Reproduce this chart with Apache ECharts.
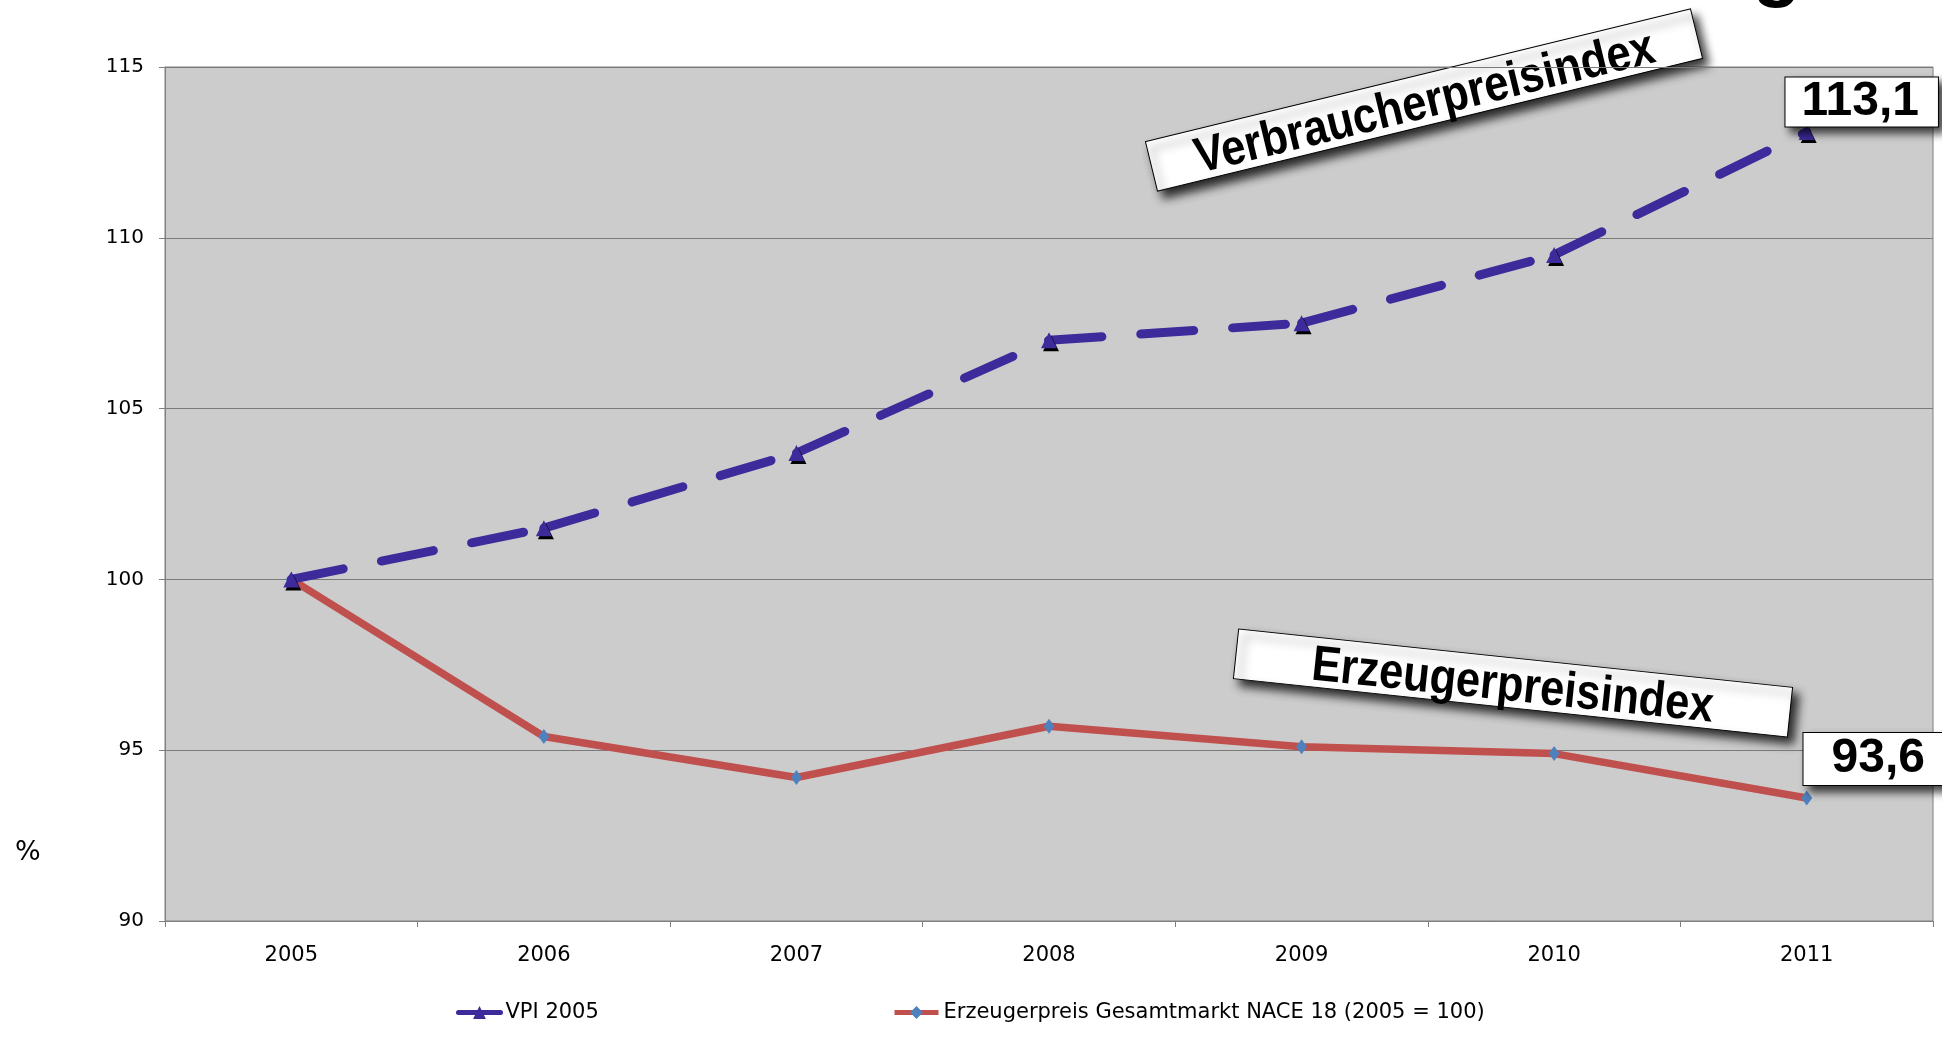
<!DOCTYPE html>
<html>
<head>
<meta charset="UTF-8">
<script src="https://cdn.jsdelivr.net/npm/echarts@6/dist/echarts.min.js"></script>
<style>
  html, body { margin: 0; padding: 0; background: #fff; }
  #main { width: 1942px; height: 1037px; }
</style>
</head>
<body>
<div id="main"></div>
<script>
  // Jahre und Indexwerte (2005 = 100)
  var years = ['2005', '2006', '2007', '2008', '2009', '2010', '2011'];
  var vpi = [100, 101.5, 103.7, 107.0, 107.5, 109.5, 113.1];
  var erzeuger = [100, 95.4, 94.2, 95.7, 95.1, 94.9, 93.6];
  var seriesNames = ['VPI 2005', 'Erzeugerpreis Gesamtmarkt NACE 18 (2005 = 100)'];
  var yTicks = { min: 90, max: 115, step: 5 };

  var boxFont = "'Liberation Sans', Arial, sans-serif";
  var axisFont = "'DejaVu Sans', Verdana, sans-serif";
  var lila = '#3d2b9b';

  function komma(v) { return String(v).replace('.', ','); }

  // letzter Punkt bekommt die weisse Wertbox
  function withEndBox(values, offset, padding) {
    return values.map(function (v, i) {
      if (i !== values.length - 1) return v;
      return {
        value: v,
        label: {
          show: true,
          position: 'inside',
          offset: offset,
          formatter: function (p) { return komma(p.value); },
          fontFamily: boxFont,
          fontWeight: 'bold',
          fontSize: 48,
          lineHeight: 46,
          color: '#000',
          backgroundColor: '#fff',
          borderColor: '#000',
          borderWidth: 1,
          padding: padding,
          shadowColor: 'rgba(0,0,0,0.75)',
          shadowBlur: 8,
          shadowOffsetX: 6,
          shadowOffsetY: 6
        }
      };
    });
  }

  // gestrichelte Linie: Strichmuster beginnt an jedem Punkt neu
  var vpiSegments = [];
  for (var s = 0; s < vpi.length - 1; s++) {
    vpiSegments.push({
      name: seriesNames[0],
      type: 'line',
      data: vpi.map(function (v, j) { return (j === s || j === s + 1) ? v : '-'; }),
      showSymbol: false,
      symbol: 'triangle',
      symbolSize: 16,
      silent: true,
      lineStyle: { color: lila, width: 9, type: [53, 39], cap: 'round' },
      itemStyle: { color: lila },
      z: 3
    });
  }

  function tafel(text, x, y, w, h, rot) {
    return {
      type: 'group',
      x: x, y: y,
      rotation: rot,
      children: [
        {
          type: 'rect',
          shape: { x: -w / 2, y: -h / 2, width: w, height: h },
          style: {
            fill: '#fff', stroke: '#000', lineWidth: 1,
            shadowColor: 'rgba(0,0,0,0.8)', shadowBlur: 10,
            shadowOffsetX: 6, shadowOffsetY: 7
          }
        },
        {
          type: 'text',
          x: 0, y: 4,
          scaleX: 0.87,
          style: {
            text: text,
            fontFamily: boxFont, fontWeight: 'bold', fontSize: 50,
            fill: '#000',
            textAlign: 'center', textVerticalAlign: 'middle',
            align: 'center', verticalAlign: 'middle'
          }
        }
      ]
    };
  }

  var chart = echarts.init(document.getElementById('main'));

  chart.setOption({
    animation: false,
    grid: {
      left: 165, right: 9, top: 67, bottom: 116,
      show: true,
      backgroundColor: '#cccccc',
      borderColor: '#808080',
      borderWidth: 1
    },
    legend: [
      {
        data: [seriesNames[0]],
        left: 456, top: 1002, padding: 0,
        itemWidth: 42, itemHeight: 16,
        lineStyle: { type: 'solid', width: 5 },
        textStyle: { fontFamily: axisFont, fontSize: 21, color: '#000' }
      },
      {
        data: [seriesNames[1]],
        left: 892, top: 1002, padding: 0,
        itemWidth: 44, itemHeight: 16,
        lineStyle: { width: 5 },
        textStyle: { fontFamily: axisFont, fontSize: 21, color: '#000' }
      }
    ],
    xAxis: {
      type: 'category',
      data: years,
      boundaryGap: true,
      axisLine: { lineStyle: { color: '#808080', width: 1 } },
      axisTick: { show: true, length: 6, lineStyle: { color: '#808080' } },
      axisLabel: { margin: 24, fontFamily: axisFont, fontSize: 21, color: '#000' },
      splitLine: { show: false }
    },
    yAxis: {
      type: 'value',
      min: yTicks.min, max: yTicks.max, interval: yTicks.step,
      axisLine: { show: true, lineStyle: { color: '#808080', width: 1 } },
      axisTick: { show: true, length: 6, lineStyle: { color: '#808080' } },
      axisLabel: { margin: 21, fontFamily: axisFont, fontSize: 20, color: '#000' },
      splitLine: { show: true, lineStyle: { color: '#7a7a7a', width: 1 } }
    },
    series: vpiSegments.concat([
      {
        name: seriesNames[0],
        type: 'line',
        data: withEndBox(vpi, [55, -30], [3, 19, 0, 16]),
        symbol: 'triangle',
        symbolSize: 16,
        lineStyle: { color: lila, width: 9, opacity: 0 },
        itemStyle: {
          color: lila,
          shadowColor: '#000', shadowBlur: 0, shadowOffsetX: 2, shadowOffsetY: 3
        },
        z: 4
      },
      {
        name: seriesNames[1],
        type: 'line',
        data: withEndBox(erzeuger, [68, -39], [4, 21, 2, 28]),
        symbol: 'diamond',
        symbolSize: [11, 15],
        lineStyle: { color: '#c0504d', width: 7.5 },
        itemStyle: { color: '#4f81bd' },
        z: 2
      }
    ]),
    graphic: [
      {
        type: 'text',
        left: 15, top: 839,
        style: { text: '%', fontFamily: axisFont, fontSize: 27, fill: '#000' }
      },
      {
        type: 'text',
        x: 1777, y: -31,
        style: {
          text: 'g', fontFamily: boxFont, fontWeight: 'bold', fontSize: 80, fill: '#000',
          textAlign: 'center', textVerticalAlign: 'middle', align: 'center', verticalAlign: 'middle'
        }
      },
      tafel('Verbraucherpreisindex', 1424, 100, 561, 51, 0.239),
      tafel('Erzeugerpreisindex', 1513, 683, 557, 50, -0.105)
    ]
  });
</script>
</body>
</html>
